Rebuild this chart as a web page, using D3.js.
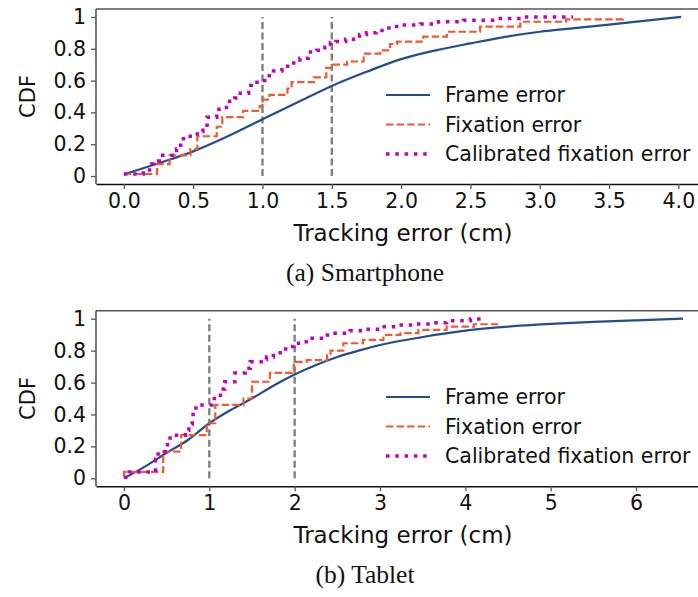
<!DOCTYPE html>
<html>
<head>
<meta charset="utf-8">
<script src="https://cdn.jsdelivr.net/npm/d3@7"></script>
<style>
  body { margin: 0; background: #fff; }
  svg { display: block; }
</style>
</head>
<body>
<div id="app"></div>
<script>
// smartphone: [error cm, cdf]
const phone_frame = [[0,0.01],[0.25,0.08],[0.5,0.155],[0.75,0.25],[1.0,0.357],[1.25,0.462],[1.5,0.566],[1.75,0.655],[2.0,0.735],[2.25,0.79],[2.5,0.834],[2.75,0.875],[3.0,0.907],[3.25,0.93],[3.5,0.952],[3.75,0.975],[4.02,1.0]]
const phone_fixation = [[0,0.013],[0.24,0.075],[0.33,0.13],[0.48,0.17],[0.53,0.25],[0.67,0.31],[0.71,0.37],[0.86,0.41],[0.98,0.44],[1.0,0.48],[1.05,0.51],[1.18,0.55],[1.21,0.59],[1.37,0.62],[1.46,0.68],[1.51,0.70],[1.61,0.72],[1.73,0.77],[1.85,0.79],[1.92,0.83],[1.97,0.845],[2.16,0.876],[2.33,0.907],[2.57,0.939],[2.86,0.97],[3.19,0.985],[3.6,0.99]]
const phone_calibrated = [[0,0.013],[0.14,0.038],[0.2,0.075],[0.25,0.094],[0.28,0.13],[0.38,0.17],[0.41,0.21],[0.43,0.25],[0.53,0.28],[0.57,0.32],[0.6,0.37],[0.67,0.42],[0.74,0.47],[0.8,0.49],[0.84,0.52],[0.9,0.57],[0.92,0.59],[0.99,0.60],[1.03,0.63],[1.08,0.66],[1.14,0.69],[1.2,0.71],[1.27,0.74],[1.33,0.78],[1.39,0.79],[1.45,0.81],[1.49,0.84],[1.53,0.845],[1.6,0.86],[1.7,0.89],[1.75,0.90],[1.82,0.915],[1.88,0.93],[1.94,0.94],[2.0,0.95],[2.14,0.956],[2.27,0.97],[2.45,0.98],[2.69,0.99],[2.88,1.0],[3.24,1.0]]

// tablet
const tablet_frame = [[0,0],[0.25,0.075],[0.5,0.16],[0.75,0.24],[1.0,0.345],[1.25,0.428],[1.5,0.5],[1.75,0.58],[2.0,0.65],[2.25,0.71],[2.5,0.76],[2.75,0.80],[3.0,0.835],[3.5,0.885],[4.0,0.925],[4.5,0.95],[5.0,0.967],[5.5,0.98],[6.0,0.99],[6.55,1.0]]
const tablet_fixation = [[0,0.01],[0,0.04],[0.46,0.167],[0.67,0.27],[0.97,0.345],[1.07,0.46],[1.4,0.5],[1.5,0.605],[1.71,0.66],[1.97,0.68],[1.99,0.73],[2.14,0.74],[2.38,0.77],[2.42,0.80],[2.57,0.846],[2.8,0.867],[3.04,0.898],[3.24,0.91],[3.45,0.93],[3.78,0.95],[4.1,0.965],[4.39,0.965]]
const tablet_calibrated = [[0,0.006],[0.06,0.04],[0.37,0.06],[0.37,0.12],[0.4,0.167],[0.51,0.23],[0.54,0.27],[0.72,0.3],[0.76,0.34],[0.8,0.376],[0.81,0.44],[0.87,0.46],[1.03,0.5],[1.13,0.56],[1.18,0.605],[1.3,0.66],[1.42,0.69],[1.48,0.73],[1.61,0.745],[1.67,0.76],[1.75,0.77],[1.83,0.81],[1.93,0.825],[1.99,0.846],[2.08,0.856],[2.18,0.877],[2.35,0.898],[2.45,0.908],[2.65,0.925],[2.8,0.934],[3.0,0.95],[3.2,0.96],[3.39,0.967],[3.63,0.975],[3.78,0.987],[4.06,0.998],[4.19,1.0]]

const phone_ticks = [0,0.5,1.0,1.5,2.0,2.5,3.0,3.5,4.0]
const tablet_ticks = [0,1,2,3,4,5,6]
const y_ticks = [0,0.2,0.4,0.6,0.8,1]
const legend_labels = ["Frame error","Fixation error","Calibrated fixation error"]

const blue = "#234d8c"
const orange = "#f15a2e"
const magenta = "#bf00bf"
const font = "DejaVu Sans, sans-serif"

const svg = d3.select("#app").append("svg")
   .attr("width",698)
   .attr("height",597)

svg.append("rect").attr("width",698).attr("height",597).attr("fill","#fff")

const make_panel = (opts) => {
   let x = d3.scaleLinear().domain(opts.xdom).range([96, opts.right])
   let y = d3.scaleLinear().domain([-0.05,1.05]).range([opts.bottom, opts.top])
   let g = svg.append("g")

   // reference lines
   opts.marks.forEach(m => {
      g.append("line")
         .attr("x1",x(m)).attr("x2",x(m))
         .attr("y1",y(0)).attr("y2",y(1))
         .attr("stroke","#808080")
         .attr("stroke-width",2.4)
         .attr("stroke-dasharray","7,3.5")
   })

   const smooth = d3.line().x(d=>x(d[0])).y(d=>y(d[1])).curve(d3.curveMonotoneX)
   const step = d3.line().x(d=>x(d[0])).y(d=>y(d[1])).curve(d3.curveStepAfter)

   g.append("path").attr("d",smooth(opts.frame))
      .attr("fill","none").attr("stroke",blue).attr("stroke-width",2.2)
   g.append("path").attr("d",step(opts.fixation))
      .attr("fill","none").attr("stroke",orange).attr("stroke-width",2.2)
      .attr("stroke-dasharray","7.4,3.2")
   g.append("path").attr("d",step(opts.calibrated))
      .attr("fill","none").attr("stroke",magenta).attr("stroke-width",3.5)
      .attr("stroke-dasharray","3.5,5.8")

   // spines
   g.append("line").attr("x1",96).attr("x2",opts.right).attr("y1",opts.top).attr("y2",opts.top)
      .attr("stroke","#555").attr("stroke-width",1.6)
   g.append("line").attr("x1",96).attr("x2",96).attr("y1",opts.top).attr("y2",opts.bottom)
      .attr("stroke","#555").attr("stroke-width",1.6)

   let xa = g.append("g")
      .attr("transform",`translate(0,${opts.bottom})`)
      .call(d3.axisBottom(x).tickValues(opts.xticks).tickFormat(opts.xfmt).tickSize(5).tickPadding(4).tickSizeOuter(0))
   xa.select(".domain").attr("stroke","#111").attr("stroke-width",1.6)
   xa.selectAll(".tick line").attr("stroke","#555").attr("stroke-width",1.3)
   xa.selectAll("text").attr("font-family",font).attr("font-size",20.5).attr("fill","#111")

   let ya = g.append("g")
      .attr("transform","translate(96,0)")
      .call(d3.axisLeft(y).tickValues(y_ticks).tickFormat(d=> d===0 ? "0" : d===1 ? "1" : d3.format(".1f")(d)).tickSize(5).tickPadding(5).tickSizeOuter(0))
   ya.select(".domain").remove()
   ya.selectAll(".tick line").attr("stroke","#555").attr("stroke-width",1.3)
   ya.selectAll("text").attr("font-family",font).attr("font-size",20.5).attr("fill","#111")

   g.append("text")
      .attr("transform",`translate(35,${(opts.top+opts.bottom)/2}) rotate(-90)`)
      .attr("text-anchor","middle")
      .attr("font-family",font).attr("font-size",21).attr("fill","#111")
      .text("CDF")

   g.append("text")
      .attr("x",403).attr("y",opts.bottom+57)
      .attr("text-anchor","middle")
      .attr("font-family",font).attr("font-size",23).attr("fill","#111")
      .text("Tracking error (cm)")

   g.append("text")
      .attr("x",365).attr("y",opts.bottom+97)
      .attr("text-anchor","middle")
      .attr("font-family","Liberation Serif, serif").attr("font-size",25.5).attr("fill","#111")
      .text(opts.caption)

   // legend
   let styles = [
      {c:blue, w:2.2, dash:null},
      {c:orange, w:2.2, dash:"7.4,3.2"},
      {c:magenta, w:3.5, dash:"3.5,5.8"}
   ]
   legend_labels.forEach((lab,i) => {
      let ly = opts.legendY + i*29.5
      g.append("line")
         .attr("x1",386).attr("x2",430).attr("y1",ly).attr("y2",ly)
         .attr("stroke",styles[i].c).attr("stroke-width",styles[i].w)
         .attr("stroke-dasharray",styles[i].dash)
      g.append("text")
         .attr("x",445).attr("y",ly+7)
         .attr("font-family",font).attr("font-size",20.5).attr("fill","#111")
         .text(lab)
   })
}

make_panel({
   xdom:[-0.201,4.221], right:709, top:9, bottom:184,
   xticks:phone_ticks, xfmt:d3.format(".1f"), marks:[1.0,1.5],
   frame:phone_frame, fixation:phone_fixation, calibrated:phone_calibrated,
   caption:"(a) Smartphone", legendY:95
})

make_panel({
   xdom:[-0.3275,6.8775], right:711, top:310.7, bottom:486.3,
   xticks:tablet_ticks, xfmt:d3.format("d"), marks:[1,2],
   frame:tablet_frame, fixation:tablet_fixation, calibrated:tablet_calibrated,
   caption:"(b) Tablet", legendY:397
})
</script>
</body>
</html>
